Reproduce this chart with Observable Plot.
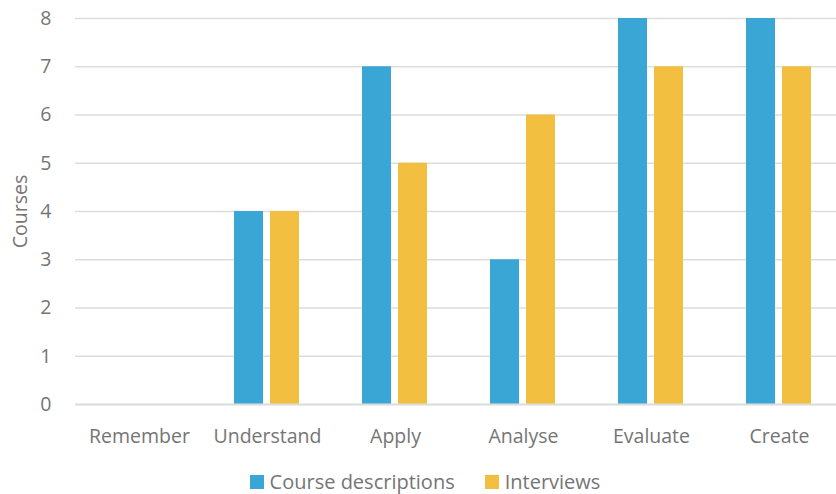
<!DOCTYPE html>
<html>
<head>
<meta charset="utf-8">
<script src="https://cdn.jsdelivr.net/npm/d3@7"></script>
<script src="https://cdn.jsdelivr.net/npm/@observablehq/plot@0.6"></script>
<style>
  html, body { margin: 0; padding: 0; background: #fff; }
  body { width: 836px; height: 494px; overflow: hidden; font-family: "Open Sans", "Noto Sans", sans-serif; }
  #chart { width: 836px; overflow: hidden; height: 450px; }
  #chart svg { max-width: none !important; }
  #legend { display: flex; justify-content: center; gap: 30px; margin-top: 22px; font-size: 20px; color: #757575; padding-left: 14px; line-height: 20px; height: 20px; }
  #legend span.item { display: flex; align-items: center; }
  #legend span.sw { display: inline-block; width: 14px; height: 14px; margin-right: 6px; }
</style>
</head>
<body>
<div id="chart"></div>
<div id="legend"></div>
<script>
const categories = ["Remember", "Understand", "Apply", "Analyse", "Evaluate", "Create"];
const seriesNames = ["Course descriptions", "Interviews"];
const courseDescriptions = [0, 4, 7, 3, 8, 8];
const interviews = [0, 4, 5, 6, 7, 7];
const colors = ["#3aa6d6", "#f2bf40"];
const yTicks = [0, 1, 2, 3, 4, 5, 6, 7, 8];

const data = [];
categories.forEach((c, i) => {
  data.push({category: c, series: seriesNames[0], value: courseDescriptions[i]});
  data.push({category: c, series: seriesNames[1], value: interviews[i]});
});

const chart = Plot.plot({
  width: 844,
  height: 450,
  marginTop: 18,
  marginBottom: 46,
  marginLeft: 74,
  marginRight: 0,
  style: {fontFamily: "'Open Sans', 'Noto Sans', sans-serif", fontSize: "19.5px", color: "#757575", background: "#fff"},
  fx: {domain: categories, padding: 0, label: null, tickSize: 0, tickPadding: 25, axis: "bottom"},
  x: {domain: seriesNames, paddingInner: 0.19, paddingOuter: 0.86, axis: null},
  y: {domain: [0, 8], ticks: yTicks, label: "Courses", labelAnchor: "center", labelArrow: "none", tickSize: 0, tickPadding: 24, labelOffset: 62},
  color: {domain: seriesNames, range: colors},
  marks: [
    Plot.ruleY(yTicks, {stroke: "#dddddd", strokeWidth: 1.5}),
    Plot.barY(data, {fx: "category", x: "series", y: "value", fill: "series"}),
    Plot.ruleY([0], {stroke: "#dddddd", strokeWidth: 2})
  ]
});
chart.style.maxWidth = "none";
document.getElementById("chart").appendChild(chart);

const legend = document.getElementById("legend");
seriesNames.forEach((s, i) => {
  const item = document.createElement("span");
  item.className = "item";
  const sw = document.createElement("span");
  sw.className = "sw";
  sw.style.background = colors[i];
  item.appendChild(sw);
  item.appendChild(document.createTextNode(s));
  legend.appendChild(item);
});
</script>
</body>
</html>
